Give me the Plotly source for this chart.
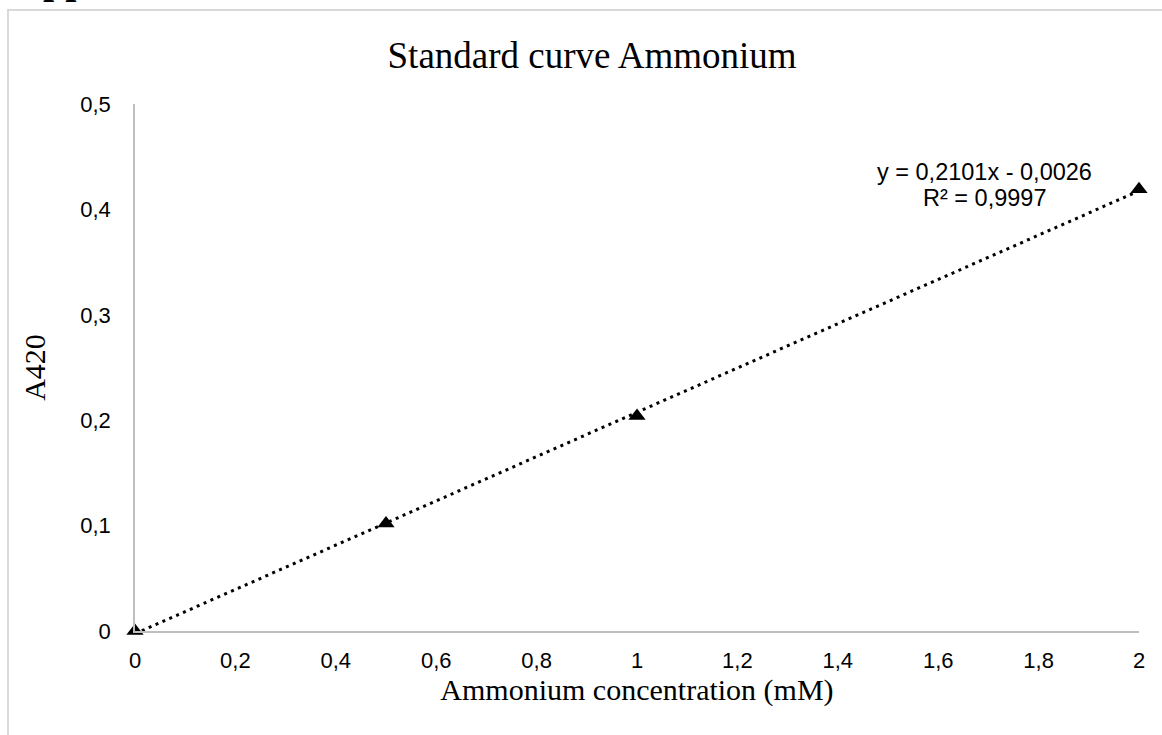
import plotly.graph_objects as go

# Standard curve data: ammonium concentration (mM) vs absorbance at 420 nm
concentration = [0, 0.5, 1, 2]
absorbance = [0.0, 0.102, 0.204, 0.419]

# Linear trendline reported on the chart
slope = 0.2101
intercept = -0.0026
r_squared = 0.9997

x_ticks = [0, 0.2, 0.4, 0.6, 0.8, 1.0, 1.2, 1.4, 1.6, 1.8, 2.0]
y_ticks = [0, 0.1, 0.2, 0.3, 0.4, 0.5]

trend_x = [concentration[0], concentration[-1]]
trend_y = [slope * x + intercept for x in trend_x]

SANS = "Liberation Sans, Arial"
SERIF = "Liberation Serif, Times New Roman"

fig = go.Figure()

fig.add_trace(go.Scatter(
    x=trend_x, y=trend_y, mode="lines",
    line=dict(color="black", width=3, dash="3px,4.5px"),
    hoverinfo="skip", showlegend=False, cliponaxis=False,
))

fig.add_trace(go.Scatter(
    x=concentration, y=absorbance, mode="markers",
    marker=dict(symbol="triangle-up", size=15, color="black"),
    showlegend=False, cliponaxis=False,
))

def fmt(v):
    return f"{abs(v):.4f}".replace(".", ",")

sign = "-" if intercept < 0 else "+"
eq_line = f"y = {fmt(slope)}x {sign} {fmt(intercept)}"
r2_line = f"R² = {fmt(r_squared)}"

# Trendline equation and R², drawn as two stacked lines
fig.add_annotation(
    x=1.6925, y=0.4353, xref="x", yref="y", text=eq_line, showarrow=False,
    font=dict(family=SANS, size=23.5, color="black"),
)
fig.add_annotation(
    x=1.6925, y=0.4106, xref="x", yref="y", text=r2_line, showarrow=False,
    font=dict(family=SANS, size=23.5, color="black"),
)

# Section heading partly cut off at the top of the page
fig.add_annotation(
    x=-0.123, y=1.19, xref="paper", yref="paper", xanchor="left", yanchor="bottom",
    text="<b>Appendix</b>", showarrow=False,
    font=dict(family=SERIF, size=40, color="black"),
)

# Light grey chart frame
fig.add_shape(
    type="rect", xref="paper", yref="paper",
    x0=-0.1265, y0=-0.4, x1=1.2, y1=1.1784,
    line=dict(color="#D9D9D9", width=2), fillcolor="rgba(0,0,0,0)", layer="below",
)

fig.update_layout(
    width=1162, height=735,
    margin=dict(l=135, r=23, t=104, b=104),
    paper_bgcolor="white", plot_bgcolor="white",
    separators=", ",
    title=dict(
        text="Standard curve Ammonium", x=0.5095, xref="container", y=0.925, yanchor="middle",
        font=dict(family=SERIF, size=37, color="black"),
    ),
    xaxis=dict(
        range=[0, 2], tickvals=x_ticks, showgrid=False, zeroline=False,
        showline=True, linecolor="#BFBFBF", linewidth=1.5, ticks="",
        ticklabelstandoff=9,
        tickfont=dict(family=SANS, size=22, color="black"),
        title=dict(text="Ammonium concentration (mM)", standoff=0,
                   font=dict(family=SERIF, size=30, color="black")),
    ),
    yaxis=dict(
        range=[0, 0.5], tickvals=y_ticks, showgrid=False, zeroline=False,
        showline=True, linecolor="#BFBFBF", linewidth=1.5, ticks="",
        ticklabelstandoff=18,
        tickfont=dict(family=SANS, size=22, color="black"),
        title=dict(text="A420", standoff=26,
                   font=dict(family=SERIF, size=30, color="black")),
    ),
)

fig.write_html("out.html")
